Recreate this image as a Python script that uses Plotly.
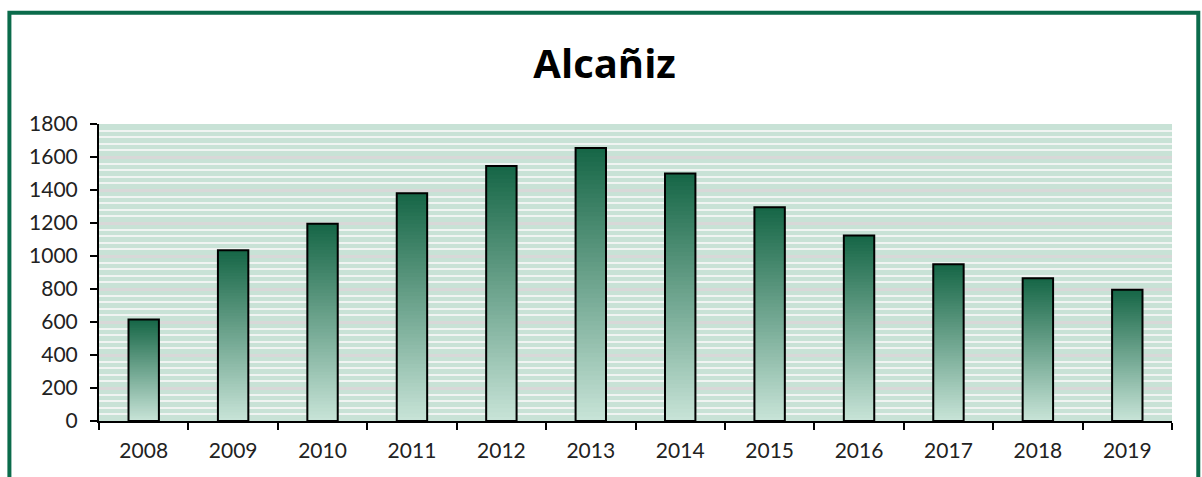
import numpy as np
import plotly.graph_objects as go

# Annual figures for Alcañiz
years = ["2008", "2009", "2010", "2011", "2012", "2013",
         "2014", "2015", "2016", "2017", "2018", "2019"]
values = [615, 1035, 1195, 1380, 1545, 1655, 1500, 1295, 1125, 950, 865, 795]

y_ticks = [0, 200, 400, 600, 800, 1000, 1200, 1400, 1600, 1800]

# Vertical gradient inside each bar: dark green at the top, pale green at the base.
# Drawn as nested bars from the base, tallest first, each shorter one lighter.
n_steps = 60
top_rgb = np.array([22, 102, 70])
base_rgb = np.array([200, 228, 216])

vals = np.array(values, dtype=float)
fig = go.Figure()
for k in range(n_steps, 0, -1):
    t = (k - 0.5) / n_steps
    rgb = base_rgb + (top_rgb - base_rgb) * t
    color = "rgb(%d,%d,%d)" % tuple(rgb.round().astype(int))
    fig.add_trace(go.Bar(
        x=years, y=vals * k / n_steps,
        marker=dict(color=color, line=dict(width=0)),
        width=0.34, hoverinfo="skip", showlegend=False,
    ))

# Black outline of each bar
fig.add_trace(go.Bar(
    x=years, y=values,
    marker=dict(color="rgba(0,0,0,0)", line=dict(color="black", width=2)),
    width=0.34, showlegend=False,
))

fig.update_layout(
    width=1202, height=477,
    barmode="overlay",
    paper_bgcolor="white",
    plot_bgcolor="#c8e2d6",
    margin=dict(l=99, r=30, t=124, b=56),
    title=dict(text="<b>Alcañiz</b>", x=0.503, xanchor="center", y=0.866, yanchor="middle",
               font=dict(family="Open Sans, sans-serif", size=40, color="black")),
    font=dict(family="Lato, Liberation Sans, sans-serif", color="#222222", size=21),
    shapes=[dict(type="rect", xref="paper", yref="paper",
                 x0=-0.0835, x1=1.0245, y0=-0.3, y1=1.375,
                 line=dict(color="#0b6b4b", width=4), fillcolor="rgba(0,0,0,0)",
                 layer="below")],
)

fig.update_xaxes(
    type="category", showline=True, linecolor="black", linewidth=2,
    ticks="outside", tickson="boundaries", ticklen=7, tickwidth=2, tickcolor="black",
    showgrid=False, tickfont=dict(size=21), range=[-0.5, 11.5],
    ticklabelstandoff=10,
)
fig.update_yaxes(
    range=[0, 1800], tickvals=y_ticks, showline=True, linecolor="black", linewidth=2,
    ticks="outside", ticklen=7, tickwidth=2, tickcolor="black",
    showgrid=True, gridcolor="#d8d8d8", gridwidth=3,
    minor=dict(dtick=40, showgrid=True, gridcolor="#f0f4f2", gridwidth=2),
    tickfont=dict(size=21), zeroline=False, ticklabelstandoff=8,
)

fig.write_html("out.html")
